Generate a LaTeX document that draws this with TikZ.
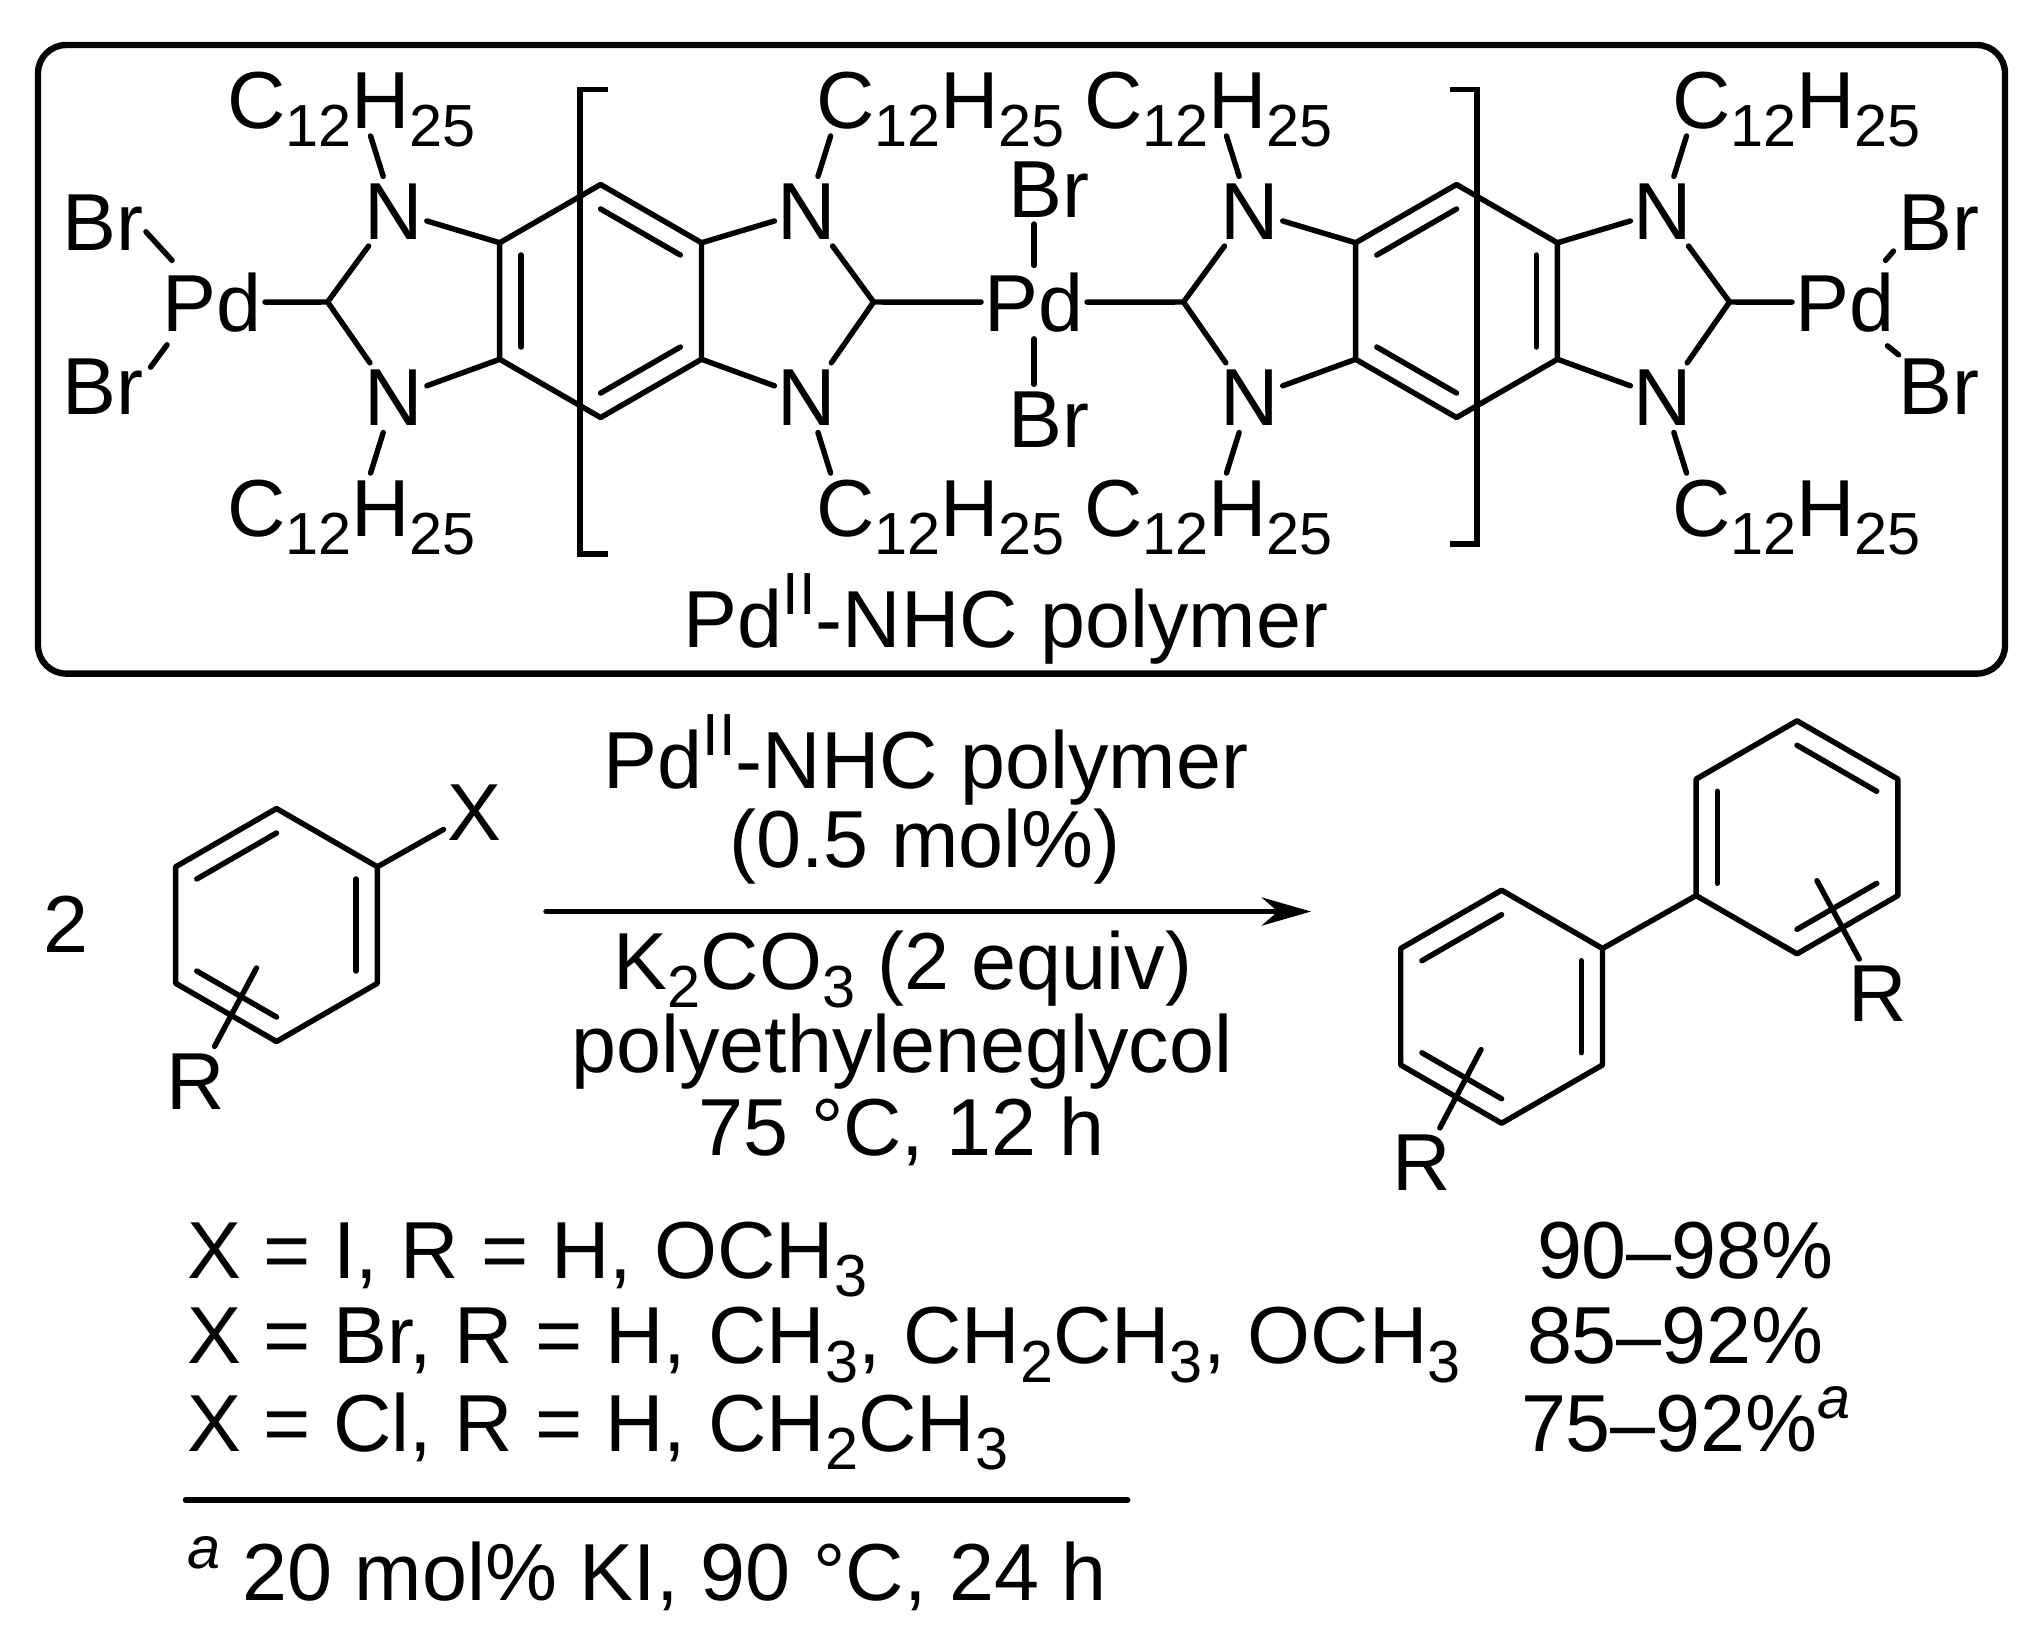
\documentclass[tikz,border=0pt]{standalone}
\usepackage{fontspec}
\setmainfont{Liberation Sans}
\usetikzlibrary{arrows.meta}
\usetikzlibrary{calc}

\newcommand{\lowsub}[1]{\raisebox{-5.3pt}{\fontsize{16.9}{20}\selectfont #1}}
\newcommand{\upsup}[1]{\raisebox{9.2pt}{\fontsize{16.9}{20}\selectfont #1}}

\tikzset{
  bond/.style={line width=1.55pt,line cap=round},
  atom/.style={anchor=base,font=\fontsize{23}{27}\selectfont,inner xsep=1pt,inner ysep=2pt,outer sep=0pt},
  txt/.style={atom,inner sep=0pt},
}

% ring corners, 1 on top and then clockwise
\newcommand{\hexring}[2]{
  \begin{scope}[shift={#2}]
    \coordinate (#1c) at (0,0);
    \foreach \k/\a in {1/-90,2/-30,3/30,4/90,5/150,6/210}
      \coordinate (#1\k) at (\a:116.5);
    \draw[bond,line join=round] (#11) -- (#12) -- (#13) -- (#14) -- (#15) -- (#16) -- cycle;
  \end{scope}
}
\newcommand{\dbl}[3]{
  \draw[bond] ($(#3c)!.79!(#1)$) -- ($(#3c)!.79!(#2)$);
}

% benzobisimidazole, drawn round its ring centre
\newcommand{\bisimid}[2]{
  \begin{scope}[#2]
    \hexring{#1}{(0,301)}
    \dbl{#15}{#16}{#1}
    \dbl{#11}{#12}{#1}
    \dbl{#13}{#14}{#1}
    \foreach \s/\n/\p/\q in {-1/l/6/5,1/r/2/3} {
      \node[atom] (#1Nu\n) at (\s*206.5,239) {N};
      \node[atom] (#1Nd\n) at (\s*206.5,425.5) {N};
      \coordinate (#1C\n) at (\s*273,302);
      \coordinate (#1Ru\n) at (\s*230,136);
      \coordinate (#1Rd\n) at (\s*230,473);
      \draw[bond] (#1Nu\n) -- (#1C\n) -- (#1Nd\n);
      \draw[bond] (#1Nu\n) -- (#1\p);
      \draw[bond] (#1Nd\n) -- (#1\q);
      \draw[bond] (#1Nu\n) -- (#1Ru\n);
      \draw[bond] (#1Nd\n) -- (#1Rd\n);
    }
  \end{scope}
}

\begin{document}
\begin{tikzpicture}[x=0.01cm,y=-0.01cm]
  \useasboundingbox (0,0) rectangle (2043,1629);

  % polymer in its box
  \draw[line width=1.8pt,rounded corners=8pt] (38,45) rectangle (2005,673.6);
  \bisimid{a}{shift={(600.6,0)}}
  \bisimid{b}{shift={(1456.5,0)},xscale=-1}
  \draw[line width=1.55pt] (608,89.4) -- (580,89.4) -- (580,554) -- (608,554);
  \draw[line width=1.55pt] (1450,89.4) -- (1477,89.4) -- (1477,544) -- (1450,544);
  \foreach \x in {227,816,1084,1672}
    \foreach \y in {128,536}
      \node[txt,anchor=base west] (alk\x-\y) at (\x,\y) {C\lowsub{12}H\lowsub{25}};

  \node[atom] (Pdl) at (212,331) {Pd};
  \node[atom] (Pdm) at (1034,331) {Pd};
  \node[atom] (Pdr) at (1845,331) {Pd};
  \node[atom] (Brlu) at (103,250) {Br};
  \node[atom] (Brld) at (103,414) {Br};
  \node[atom] (Brmu) at (1049,217) {Br};
  \node[atom] (Brmd) at (1049,447) {Br};
  \node[atom] (Brru) at (1939,250) {Br};
  \node[atom] (Brrd) at (1939,414) {Br};
  \draw[bond] (Pdl) -- (aCl);
  \draw[bond] (aCr) -- (Pdm);
  \draw[bond] (Pdm) -- (bCr);
  \draw[bond] (bCl) -- (Pdr);
  \draw[bond] ([shift={(13,-5)}]Pdl.north west) -- ([shift={(-1,9.6)}]Brlu.east);
  \draw[bond] ([shift={(8,6)}]Pdl.south west) -- ([shift={(3.6,-19)}]Brld.east);
  \draw[bond] (Pdm.north) -- (Brmu.south -| Pdm.north);
  \draw[bond] (Pdm.south) -- (Brmd.north -| Pdm.south);
  \draw[bond] ([shift={(-12.5,-5)}]Pdr.north east) -- ([shift={(-1.5,-6)}]Brru.south west);
  \draw[bond] ([shift={(-10.5,7)}]Pdr.south east) -- ([shift={(3.5,3.5)}]Brrd.north west);
  \node[txt] (poly) at (1006,647) {Pd\upsup{II}-NHC polymer};

  % reaction
  \node[txt] (two) at (66,952) {2};
  \hexring{s}{(276.5,925)}
  \dbl{s1}{s6}{s}
  \dbl{s2}{s3}{s}
  \dbl{s4}{s5}{s}
  \node[atom] (Xs) at (474,840) {X};
  \node[atom] (Rs) at (196,1109) {R};
  \coordinate (Rsin) at (256.5,968);
  \draw[bond] (s2) -- (Xs);
  \draw[bond] (Rsin) -- (Rs);

  \node[txt] (cat) at (926,788) {Pd\upsup{II}-NHC polymer};
  \node[txt] (load) at (925,867) {(0.5 mol\%)};
  \coordinate (rxnl) at (546,911.5);
  \coordinate (rxnr) at (1311,911.5);
  \draw[bond,-{Stealth[length=14pt,width=8pt]}] (rxnl) -- (rxnr);
  \node[txt] (base) at (903,989) {K\lowsub{2}CO\lowsub{3} (2 equiv)};
  \node[txt] (solv) at (902,1072) {polyethyleneglycol};
  \node[txt] (temp) at (901.5,1155) {75 °C, 12 h};

  % biphenyl
  \hexring{p}{(1501.6,1006.7)}
  \dbl{p1}{p6}{p}
  \dbl{p2}{p3}{p}
  \dbl{p4}{p5}{p}
  \hexring{q}{(1797,837.3)}
  \dbl{q1}{q2}{q}
  \dbl{q3}{q4}{q}
  \dbl{q5}{q6}{q}
  \draw[bond] (p2) -- (q5);
  \node[atom] (Rp) at (1421.5,1190.6) {R};
  \node[atom] (Rq) at (1878,1021.7) {R};
  \coordinate (Rpin) at (1481,1049.6);
  \coordinate (Rqin) at (1817,880.7);
  \draw[bond] (Rpin) -- (Rp);
  \draw[bond] (Rqin) -- (Rq);

  % scope table
  \node[txt,anchor=base west] (rowi) at (187,1278) {X = I, R = H, OCH\lowsub{3}};
  \node[txt,anchor=base west] (rowbr) at (187,1363.6) {X = Br, R = H, CH\lowsub{3}, CH\lowsub{2}CH\lowsub{3}, OCH\lowsub{3}};
  \node[txt,anchor=base west] (rowcl) at (187,1451) {X = Cl, R = H, CH\lowsub{2}CH\lowsub{3}};
  \node[txt,anchor=base west] (yldi) at (1537,1278) {90–98\%};
  \node[txt,anchor=base west] (yldbr) at (1527,1363.6) {85–92\%};
  \node[txt,anchor=base west] (yldcl) at (1521,1451) {75–92\%\upsup{\textit{a}}};
  \coordinate (rulel) at (185.5,1500);
  \coordinate (ruler) at (1127.7,1500);
  \draw[bond] (rulel) -- (ruler);
  \node[txt,anchor=base west] (note) at (187,1600.6) {\upsup{\textit{a}} 20 mol\% KI, 90 °C, 24 h};
\end{tikzpicture}
\end{document}
